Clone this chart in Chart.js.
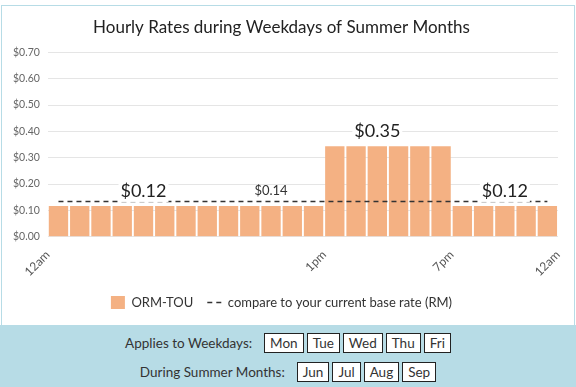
<!DOCTYPE html>
<html>
<head>
<meta charset="utf-8">
<script src="https://cdn.jsdelivr.net/npm/chart.js@4.4.0/dist/chart.umd.min.js"></script>
<style>
    body { margin: 0; background: #fff; font-family: Lato, sans-serif; }
    #chartBox {
        position: absolute; left: 1px; top: 5px;
        width: 572px; height: 319px;
        border: 1px solid #b7dce6; border-bottom: none;
    }
    #filters {
        position: absolute; left: 0; top: 325px;
        width: 576px; height: 62px;
        background: #b7dce6; color: #333; font-size: 13.5px;
    }
    .row { display: flex; justify-content: center; align-items: center; height: 29px; }
    .row:first-child { margin-top: 3px; }
    .row .label { margin-right: 9px; }
    .day {
        background: #fff; border: 1px solid #222;
        height: 18px; line-height: 18px; padding: 0 5px; margin-left: 3px;
    }
</style>
</head>
<body>
<div id="chartBox"><canvas id="myChart"></canvas></div>
<div id="filters">
    <div class="row"><span class="label">Applies to Weekdays:</span><span class="day">Mon</span><span class="day">Tue</span><span class="day">Wed</span><span class="day">Thu</span><span class="day">Fri</span></div>
    <div class="row"><span class="label">During Summer Months:</span><span class="day">Jun</span><span class="day">Jul</span><span class="day">Aug</span><span class="day">Sep</span></div>
</div>
<script>
// hourly ORM-TOU rate, hour 0 (12am) .. hour 23
const rates = [
    0.117, 0.117, 0.117, 0.117, 0.117, 0.117, 0.117, 0.117, 0.117, 0.117, 0.117, 0.117, 0.117,
    0.344, 0.344, 0.344, 0.344, 0.344, 0.344,
    0.117, 0.117, 0.117, 0.117, 0.117
];
// current base rate (RM), same every hour
const baseRates = [
    0.1335, 0.1335, 0.1335, 0.1335, 0.1335, 0.1335, 0.1335, 0.1335, 0.1335, 0.1335, 0.1335, 0.1335,
    0.1335, 0.1335, 0.1335, 0.1335, 0.1335, 0.1335, 0.1335, 0.1335, 0.1335, 0.1335, 0.1335, 0.1335
];
const tickHours = [0, 13, 19, 24];
const tickLabels = ["12am", "1pm", "7pm", "12am"];
const rateLabelHours = [4, 15, 21];
const rateLabelTexts = ["$0.12", "$0.35", "$0.12"];
const baseLabelHour = 10;
const baseLabelText = "$0.14";

const ctx = document.getElementById("myChart").getContext("2d");

// rate text above the bars, with a white patch behind it
const rateLabels = {
    id: "rateLabels",
    afterDatasetsDraw(chart) {
        const { ctx, scales: { x, y } } = chart;
        ctx.save();
        ctx.textAlign = "center";
        ctx.textBaseline = "middle";
        ctx.font = "18px Lato";
        rateLabelHours.forEach((h, i) => {
            const px = x.getPixelForValue(h + 0.5);
            const py = y.getPixelForValue(rates[h]) - 15;
            const w = ctx.measureText(rateLabelTexts[i]).width;
            ctx.fillStyle = "#fff";
            ctx.fillRect(px - w / 2 - 2, py - 11, w + 4, 22);
            ctx.fillStyle = "#222";
            ctx.fillText(rateLabelTexts[i], px, py);
        });
        ctx.font = "13px Lato";
        ctx.fillStyle = "#333";
        ctx.fillText(baseLabelText, x.getPixelForValue(baseLabelHour + 0.5), y.getPixelForValue(baseRates[baseLabelHour]) - 11);
        ctx.restore();
    }
};

const myChart = new Chart(ctx, {
    type: "bar",
    data: {
        datasets: [
            {
                label: "ORM-TOU",
                data: rates.map((v, i) => ({ x: i + 0.5, y: v })),
                backgroundColor: "#f4b183",
                barPercentage: 0.91,
                categoryPercentage: 1,
                pointStyle: "rect",
                order: 2
            },
            {
                type: "line",
                label: "compare to your current base rate (RM)",
                data: baseRates.map((v, i) => ({ x: i + 0.5, y: v })),
                borderColor: "#333",
                borderWidth: 1.5,
                borderDash: [5, 4],
                pointRadius: 0,
                pointStyle: "line",
                fill: false,
                order: 1
            }
        ]
    },
    options: {
        responsive: true,
        maintainAspectRatio: false,
        animation: false,
        layout: { padding: { left: 3, right: 16, bottom: 6 } },
        scales: {
            x: {
                type: "linear",
                min: 0,
                max: 24,
                offset: false,
                grid: { display: false, offset: false },
                border: { display: false },
                afterBuildTicks: scale => { scale.ticks = tickHours.map(v => ({ value: v })); },
                ticks: {
                    autoSkip: false,
                    minRotation: 45,
                    maxRotation: 45,
                    color: "#555",
                    font: { family: "Lato", size: 12 },
                    callback: (v, i) => tickLabels[i]
                }
            },
            y: {
                min: 0,
                max: 0.7,
                grid: { color: "#e5e5e5", drawTicks: false },
                border: { display: false },
                ticks: {
                    stepSize: 0.1,
                    padding: 8,
                    color: "#666",
                    font: { family: "Lato", size: 10.5 },
                    callback: v => "$" + v.toFixed(2)
                }
            }
        },
        plugins: {
            title: {
                display: true,
                text: "Hourly Rates during Weekdays of Summer Months",
                color: "#222",
                font: { family: "Lato", size: 17, weight: "normal" },
                padding: { top: 11, bottom: 15 }
            },
            legend: {
                position: "bottom",
                labels: {
                    usePointStyle: true,
                    pointStyleWidth: 14,
                    color: "#333",
                    font: { family: "Lato", size: 13 },
                    padding: 14,
                    sort: (a, b) => a.datasetIndex - b.datasetIndex,
                    generateLabels: chart => {
                        const items = Chart.defaults.plugins.legend.labels.generateLabels(chart);
                        items.forEach(item => {
                            const ds = chart.data.datasets[item.datasetIndex];
                            if (ds.borderDash) {
                                item.lineDash = ds.borderDash;
                                item.lineWidth = ds.borderWidth;
                                item.strokeStyle = ds.borderColor;
                            }
                        });
                        return items;
                    }
                }
            },
            tooltip: { enabled: false }
        }
    },
    plugins: [rateLabels]
});
</script>
</body>
</html>
